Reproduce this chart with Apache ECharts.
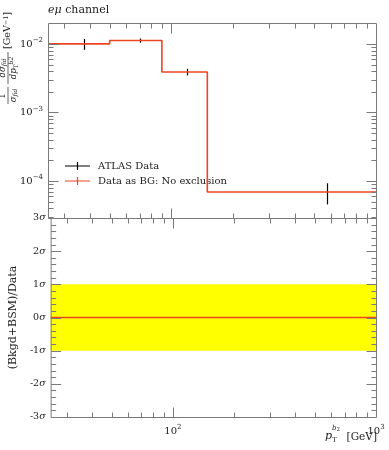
<!DOCTYPE html>
<html><head><meta charset="utf-8">
<script src="https://cdn.jsdelivr.net/npm/echarts@6/dist/echarts.min.js"></script>
<style>html,body{margin:0;padding:0;background:#fff}#c{width:389px;height:450px}</style>
</head><body><div id="c"></div>
<script>
// ---- data ----
const binEdges = [25, 50, 90, 150, 1000];
const binCenters = [37.5, 70, 120, 575];
const dataValues = [0.0100, 0.0112, 0.0039, 0.000069];
const dataErrors = [0.0018, 0.0008, 0.00043, 0.0000235];
const bgValues = [0.0100, 0.0112, 0.0039, 0.000069];
const ratioValues = [0, 0, 0, 0];
const sigmaBand = [-1, 1];
// ---- axes / ticks ----
const xRange = [25, 1000];
const yRangeTop = [2.88e-5, 0.0202];
const yRangeRatio = [-3, 3];
const xTickLabels = [100, 1000];
const yTickLabelsTop = [1e-4, 1e-3, 1e-2];
const xMajorTicks = [100];
const xMinorTicks = [30, 40, 50, 60, 70, 80, 90, 200, 300, 400, 500, 600, 700, 800, 900];
const yMajorTicksTop = [1e-4, 1e-3, 1e-2];
const yMinorTicksTop = [3e-5, 4e-5, 5e-5, 6e-5, 7e-5, 8e-5, 9e-5,
  2e-4, 3e-4, 4e-4, 5e-4, 6e-4, 7e-4, 8e-4, 9e-4,
  2e-3, 3e-3, 4e-3, 5e-3, 6e-3, 7e-3, 8e-3, 9e-3];
const yMajorTicksRatio = [-2, -1, 0, 1, 2];
const yMinorTicksRatio = [-2.8, -2.6, -2.4, -2.2, -1.8, -1.6, -1.4, -1.2, -0.8, -0.6, -0.4, -0.2,
  0.2, 0.4, 0.6, 0.8, 1.2, 1.4, 1.6, 1.8, 2.2, 2.4, 2.6, 2.8];

const FONT = 'DejaVu Serif';
const TXT = '#222';
const AX = '#7a7a7a';
const RED = '#ee4422';

function stepPts(edges, vals) {
  const pts = vals.map((v, i) => [edges[i], v]);
  pts.push([edges[edges.length - 1], vals[vals.length - 1]]);
  return pts;
}

function tickSeries(gi, xMaj, xMin, yMaj, yMin, xAt, yAt) {
  const data = [];
  xMaj.forEach(v => data.push([v, yAt, 0]));
  xMin.forEach(v => data.push([v, yAt, 1]));
  yMaj.forEach(v => data.push([xAt, v, 2]));
  yMin.forEach(v => data.push([xAt, v, 3]));
  data.push([xAt, yAt, 4]);
  return {
    type: 'custom', name: 'ticks' + gi, xAxisIndex: gi, yAxisIndex: gi, silent: true, z: 20, clip: false,
    data: data,
    renderItem: function (params, api) {
      const cs = params.coordSys;
      const kind = api.value(2);
      const st = { stroke: AX, lineWidth: 1 };
      if (kind === 4) {
        return { type: 'rect', shape: { x: cs.x + 0.5, y: cs.y + 0.5, width: cs.width, height: cs.height }, style: { fill: 'none', stroke: AX, lineWidth: 1 } };
      }
      const p = api.coord([api.value(0), api.value(1)]);
      const len = (kind === 0 || kind === 2) ? 10 : 5;
      if (kind <= 1) {
        const x = Math.round(p[0]) + 0.5;
        const yb = cs.y + cs.height + 0.5, yt = cs.y + 0.5;
        return { type: 'group', children: [
          { type: 'line', shape: { x1: x, y1: yb, x2: x, y2: yb - len }, style: st },
          { type: 'line', shape: { x1: x, y1: yt, x2: x, y2: yt + len }, style: st }
        ] };
      } else {
        const y = Math.round(p[1]) + 0.5;
        const xl = cs.x + 0.5, xr = cs.x + cs.width + 0.5;
        return { type: 'group', children: [
          { type: 'line', shape: { x1: xl, y1: y, x2: xl + len, y2: y }, style: st },
          { type: 'line', shape: { x1: xr, y1: y, x2: xr - len, y2: y }, style: st }
        ] };
      }
    }
  };
}

function supLabel(base, exp) {
  return '{b|' + base + '}{e|' + exp + '}';
}
const richPow = {
  b: { fontFamily: FONT, fontSize: 10, color: TXT, lineHeight: 14 },
  e: { fontFamily: FONT, fontSize: 7, color: TXT, lineHeight: 8, verticalAlign: 'top' }
};

const chart = echarts.init(document.getElementById('c'), null, { renderer: 'canvas' });
chart.setOption({
  animation: false,
  backgroundColor: '#fff',
  grid: [
    { left: 48, top: 23, width: 328, height: 195 },
    { left: 48, top: 218, width: 328, height: 199 }
  ],
  xAxis: [
    { type: 'log', gridIndex: 0, min: xRange[0], max: xRange[1], axisLine: { show: false }, axisTick: { show: false }, axisLabel: { show: false }, splitLine: { show: false } },
    { type: 'log', gridIndex: 1, min: xRange[0], max: xRange[1], axisLine: { show: false }, axisTick: { show: false }, splitLine: { show: false },
      axisLabel: { margin: 7, showMinLabel: false, formatter: function (v) {
        const i = xTickLabels.findIndex(t => Math.abs(t - v) / t < 1e-6);
        if (i < 0) return '';
        return supLabel('10', String(Math.round(Math.log10(v))));
      }, rich: richPow } }
  ],
  yAxis: [
    { type: 'log', gridIndex: 0, min: yRangeTop[0], max: yRangeTop[1], axisLine: { show: false }, axisTick: { show: false }, splitLine: { show: false },
      axisLabel: { margin: 5, formatter: function (v) {
        const i = yTickLabelsTop.findIndex(t => Math.abs(t - v) / t < 1e-6);
        if (i < 0) return '';
        return supLabel('10', '\u2212' + String(-Math.round(Math.log10(v))));
      }, rich: richPow } },
    { type: 'value', gridIndex: 1, min: yRangeRatio[0], max: yRangeRatio[1], interval: 1, axisLine: { show: false }, axisTick: { show: false }, splitLine: { show: false },
      name: '(Bkgd+BSM)/Data', nameLocation: 'middle', nameRotate: 90, nameGap: 31,
      nameTextStyle: { fontFamily: FONT, fontSize: 11, color: TXT },
      axisLabel: { margin: 5, formatter: function (v) { return '{n|' + v + '}{s|\u03c3}'; },
        rich: { n: { fontFamily: FONT, fontSize: 9.5, color: TXT }, s: { fontFamily: FONT, fontSize: 9.5, fontStyle: 'italic', color: TXT } } } }
  ],
  legend: {
    orient: 'vertical', left: 65, top: 161, padding: 0, itemWidth: 25, itemHeight: 8, itemGap: 5,
    textStyle: { fontFamily: FONT, fontSize: 10, color: TXT, padding: [0, 0, 0, 3] },
    data: [
      { name: 'ATLAS Data', icon: 'path://M0,3.4h25v1.2h-25zM11.9,0h1.2v8h-1.2z', itemStyle: { color: '#000' } },
      { name: 'Data as BG: No exclusion', icon: 'path://M0,3.4h25v1.2h-25zM11.9,0h1.2v8h-1.2z', itemStyle: { color: RED } }
    ]
  },
  graphic: [
    { type: 'text', left: 48, top: 5, style: { text: '{i|e\u03bc} channel', fontFamily: FONT, fontSize: 11, fill: TXT,
      rich: { i: { fontFamily: FONT, fontSize: 11, fontStyle: 'italic', fill: TXT } } } },
    { type: 'group', x: 8, y: 104, rotation: Math.PI / 2, children: [
      { type: 'text', x: 8, y: -0.5, style: { text: '1', fontFamily: FONT, fontSize: 8.5, fill: TXT, align: 'center', verticalAlign: 'bottom' } },
      { type: 'line', shape: { x1: 0, y1: 0, x2: 17, y2: 0 }, style: { stroke: TXT, lineWidth: 0.7 } },
      { type: 'text', x: 8.5, y: 0.5, style: { text: '{a|\u03c3}{b|fid}', align: 'center', verticalAlign: 'top',
        rich: { a: { fontFamily: FONT, fontSize: 8.5, fontStyle: 'italic', fill: TXT, lineHeight: 10 }, b: { fontFamily: FONT, fontSize: 6, fontStyle: 'italic', fill: TXT, lineHeight: 6, verticalAlign: 'bottom' } } } },
      { type: 'line', shape: { x1: 20, y1: 0, x2: 52, y2: 0 }, style: { stroke: TXT, lineWidth: 0.7 } },
      { type: 'text', x: 36, y: -0.5, style: { text: '{a|d\u03c3}{b|fid}', align: 'center', verticalAlign: 'bottom',
        rich: { a: { fontFamily: FONT, fontSize: 8.5, fontStyle: 'italic', fill: TXT, lineHeight: 10 }, b: { fontFamily: FONT, fontSize: 6, fontStyle: 'italic', fill: TXT, lineHeight: 6, verticalAlign: 'bottom' } } } },
      { type: 'text', x: 36, y: 0.5, style: { text: '{a|dp}{b|T}{c|b2}', align: 'center', verticalAlign: 'top',
        rich: { a: { fontFamily: FONT, fontSize: 8.5, fontStyle: 'italic', fill: TXT, lineHeight: 11 }, b: { fontFamily: FONT, fontSize: 6, fill: TXT, lineHeight: 6, verticalAlign: 'bottom' }, c: { fontFamily: FONT, fontSize: 6, fontStyle: 'italic', fill: TXT, lineHeight: 6, verticalAlign: 'top' } } } },
      { type: 'text', x: 55, y: 0, style: { text: '[GeV{e|\u22121}]', fontFamily: FONT, fontSize: 9.5, fill: TXT, align: 'left', verticalAlign: 'middle',
        rich: { e: { fontFamily: FONT, fontSize: 6.5, fill: TXT, lineHeight: 6, verticalAlign: 'top' } } } }
    ] },
    { type: 'text', right: 12, top: 432, style: { text: '[GeV]', fontFamily: FONT, fontSize: 10.5, fill: TXT } },
    { type: 'text', left: 325, top: 431, style: { text: 'p', fontFamily: FONT, fontSize: 11, fontStyle: 'italic', fill: TXT } },
    { type: 'text', left: 332, top: 425, style: { text: '{b|b}{s|2}', rich: { b: { fontFamily: FONT, fontSize: 7, fontStyle: 'italic', fill: TXT, lineHeight: 8 }, s: { fontFamily: FONT, fontSize: 5.5, fill: TXT, lineHeight: 5, verticalAlign: 'bottom' } } } },
    { type: 'text', left: 332, top: 437, style: { text: 'T', fontFamily: FONT, fontSize: 7, fill: TXT } }
  ],
  series: [
    { type: 'line', name: 'Data as BG: No exclusion', xAxisIndex: 0, yAxisIndex: 0, step: 'end', showSymbol: false, z: 5,
      data: stepPts(binEdges, bgValues), lineStyle: { color: RED, width: 1.6 }, itemStyle: { color: RED } },
    { type: 'custom', name: 'ATLAS Data', xAxisIndex: 0, yAxisIndex: 0, z: 4, itemStyle: { color: '#000' },
      data: binCenters.map((x, i) => [x, dataValues[i], dataErrors[i]]),
      renderItem: function (params, api) {
        const x = api.value(0), y = api.value(1), e = api.value(2);
        const p1 = api.coord([x, y - e]), p2 = api.coord([x, y + e]);
        const px = Math.round(p1[0]) + 0.5;
        return { type: 'line', shape: { x1: px, y1: p1[1], x2: px, y2: p2[1] }, style: { stroke: '#000', lineWidth: 1.2 } };
      } },
    { type: 'line', name: 'ratio', xAxisIndex: 1, yAxisIndex: 1, step: 'end', showSymbol: false, z: 5,
      data: stepPts(binEdges, ratioValues), lineStyle: { color: RED, width: 1.4 },
      markArea: { silent: true, itemStyle: { color: '#ffff00', opacity: 1 }, data: [[{ yAxis: sigmaBand[0] }, { yAxis: sigmaBand[1] }]] } },
    tickSeries(0, xMajorTicks, xMinorTicks, yMajorTicksTop, yMinorTicksTop, xRange[0], yRangeTop[0]),
    tickSeries(1, xMajorTicks, xMinorTicks, yMajorTicksRatio, yMinorTicksRatio, xRange[0], yRangeRatio[0])
  ]
});
</script>
</body></html>
